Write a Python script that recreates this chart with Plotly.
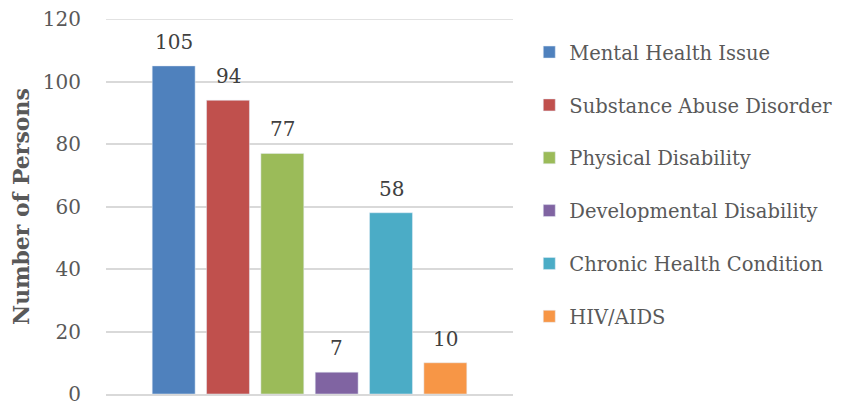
import plotly.graph_objects as go

categories = ["Mental Health Issue", "Substance Abuse Disorder", "Physical Disability",
              "Developmental Disability", "Chronic Health Condition", "HIV/AIDS"]
persons = [105, 94, 77, 7, 58, 10]
colors = ["#4F81BD", "#C0504D", "#9BBB59", "#8064A2", "#4BACC6", "#F79646"]

FONT = "DejaVu Serif"
BARGAP = 0.199
Y_MAX = 120

fig = go.Figure()
for i, (name, val) in enumerate(zip(categories, persons)):
    fig.add_trace(go.Bar(x=[""], y=[val], name=name, marker_color=colors[i],
                         legendgroup=str(i), hoverinfo="name+y",
                         offsetgroup=str(i)))

# value labels above each bar
slot = (1 - BARGAP) / len(persons)
for i, val in enumerate(persons):
    fig.add_annotation(x=-(1 - BARGAP) / 2 + slot * (i + 0.5), y=val, text=str(val),
                       showarrow=False, yanchor="bottom", yshift=10,
                       font=dict(family=FONT, size=20, color="#404040"))

# gridline at the top of the range (plotly skips it at the edge)
fig.add_shape(type="line", xref="paper", x0=0, x1=1, y0=Y_MAX, y1=Y_MAX,
              line=dict(color="#D9D9D9", width=1.5), layer="below")

# the page body adds 8px, so margins are 8px smaller on top/left
fig.update_layout(
    width=847, height=405,
    margin=dict(l=98, r=342, t=11, b=19, autoexpand=False),
    plot_bgcolor="white", paper_bgcolor="white",
    barmode="group", bargap=BARGAP, bargroupgap=0.21,
    font=dict(family=FONT, color="#595959"),
    xaxis=dict(showticklabels=False, showline=True, linecolor="#D9D9D9",
               linewidth=1.5, range=[-0.5, 0.5], automargin=False),
    yaxis=dict(range=[0, Y_MAX], dtick=20, showgrid=True, gridcolor="#D9D9D9",
               gridwidth=1.5, zeroline=False, ticks="", automargin=False,
               ticklabelstandoff=24, ticklabeloverflow="allow",
               tickfont=dict(family=FONT, size=20, color="#595959"),
               title=dict(text="<b>Number of Persons</b>", standoff=20,
                          font=dict(family=FONT, size=22, color="#595959"))),
    legend=dict(x=1.04, y=0.963, xanchor="left", yanchor="top",
                font=dict(family=FONT, size=19.5, color="#595959"),
                tracegroupgap=24.5, itemwidth=30, traceorder="grouped"),
    showlegend=True,
)

fig.write_html("out.html")
